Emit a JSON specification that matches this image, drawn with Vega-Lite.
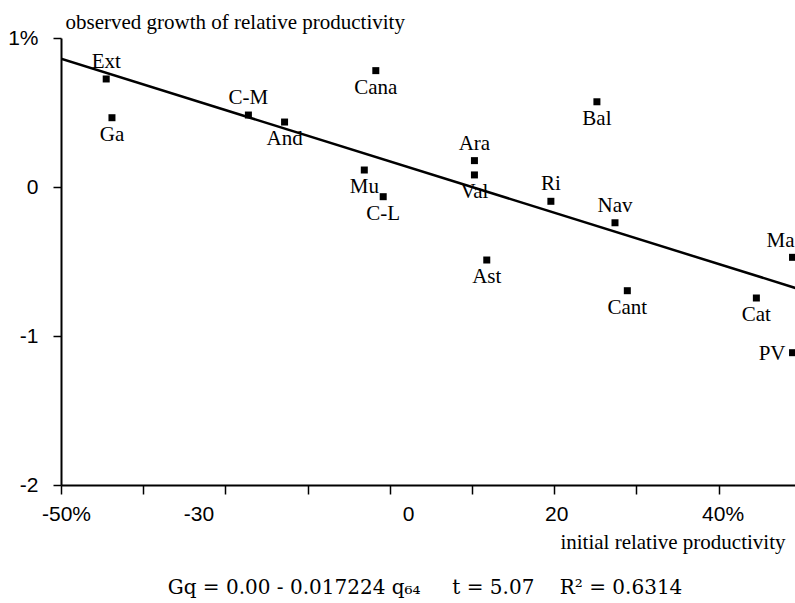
{
  "$schema": "https://vega.github.io/schema/vega-lite/v6.json",
  "width": 734,
  "height": 447,
  "autosize": {"type": "none"},
  "padding": {"left": 61, "top": 38, "right": 0, "bottom": 118},
  "background": "white",
  "title": {
    "text": "Gq = 0.00 - 0.017224 q₆₄\u00a0\u00a0\u00a0\u00a0\u00a0t = 5.07\u00a0\u00a0\u00a0\u00a0R² = 0.6314",
    "orient": "bottom",
    "anchor": "middle",
    "frame": "group",
    "font": "DejaVu Serif",
    "fontSize": 20,
    "fontWeight": "normal",
    "color": "black",
    "baseline": "alphabetic",
    "offset": 42,
    "dx": -3
  },
  "datasets": {
    "regions": [
      {"name": "Ext", "q": -44.5, "g": 0.725},
      {"name": "Ga", "q": -43.8, "g": 0.465},
      {"name": "C-M", "q": -27.2, "g": 0.483},
      {"name": "And", "q": -22.8, "g": 0.436},
      {"name": "Cana", "q": -11.7, "g": 0.781},
      {"name": "Mu", "q": -13.1, "g": 0.114},
      {"name": "C-L", "q": -10.8, "g": -0.065},
      {"name": "Ara", "q": 0.3, "g": 0.177},
      {"name": "Val", "q": 0.3, "g": 0.081},
      {"name": "Ast", "q": 1.8, "g": -0.49},
      {"name": "Bal", "q": 15.2, "g": 0.572},
      {"name": "Ri", "q": 9.6, "g": -0.096},
      {"name": "Nav", "q": 17.4, "g": -0.24},
      {"name": "Cant", "q": 18.9, "g": -0.696},
      {"name": "Cat", "q": 34.6, "g": -0.745},
      {"name": "Ma", "q": 39.0, "g": -0.472},
      {"name": "PV", "q": 39.0, "g": -1.112}
    ],
    "fit": [
      {"q": -50, "g": 0.8612},
      {"q": 50, "g": -0.8612}
    ]
  },
  "config": {
    "view": {"stroke": null},
    "axis": {"grid": false, "domainColor": "black", "tickColor": "black", "labelColor": "black", "titleColor": "black"}
  },
  "layer": [
    {
      "data": {"name": "regions"},
      "mark": {"type": "square", "size": 49, "color": "black", "opacity": 1},
      "encoding": {
        "x": {
          "field": "q", "type": "quantitative",
          "scale": {"domain": [-50, 39.3], "nice": false, "zero": false},
          "axis": {
            "values": [-50, -40, -30, -20, -10, 0, 10, 20, 30],
            "labelExpr": "datum.value == -50 ? '-50%' : datum.value == -30 ? '-30' : datum.value == 0 ? '0' : datum.value == 10 ? '20' : datum.value == 30 ? '40%' : ''",
            "labelOffset": {"expr": "datum.value == -50 ? 5 : datum.value == -30 ? -27 : datum.value == 0 ? -64 : datum.value == 10 ? 2 : datum.value == 30 ? 4 : 0"},
            "labelFlush": false,
            "labelOverlap": false,
            "labelFont": "Liberation Sans",
            "labelFontSize": 21,
            "labelPadding": 9,
            "tickSize": 9,
            "tickWidth": 1.5,
            "domainWidth": 2,
            "title": "initial relative productivity",
            "titleFont": "Liberation Serif",
            "titleFontSize": 21,
            "titleFontWeight": "normal",
            "titleAlign": "right",
            "titleBaseline": "alphabetic",
            "titleX": 724,
            "titleY": 63
          }
        },
        "y": {
          "field": "g", "type": "quantitative",
          "scale": {"domain": [-2, 1], "nice": false, "zero": false},
          "axis": {
            "values": [-2, -1, 0, 1],
            "labelExpr": "datum.value == 1 ? '1%' : '' + datum.value",
            "labelFlush": false,
            "labelOverlap": false,
            "labelFont": "Liberation Sans",
            "labelFontSize": 21,
            "labelPadding": 15,
            "tickSize": 8,
            "tickWidth": 1.5,
            "domainWidth": 2,
            "title": "observed growth of relative productivity",
            "titleFont": "Liberation Serif",
            "titleFontSize": 21,
            "titleFontWeight": "normal",
            "titleAngle": 0,
            "titleAlign": "left",
            "titleBaseline": "alphabetic",
            "titleX": 4,
            "titleY": -10
          }
        }
      }
    },
    {
      "mark": {"type": "rule", "color": "black", "strokeWidth": 2},
      "encoding": {"y": {"datum": 1}}
    },
    {
      "mark": {"type": "rule", "color": "black", "strokeWidth": 1},
      "encoding": {"y": {"datum": 0}}
    },
    {
      "mark": {"type": "rule", "color": "black", "strokeWidth": 1},
      "encoding": {"x": {"datum": 0}}
    },
    {
      "data": {"name": "fit"},
      "mark": {"type": "line", "color": "black", "strokeWidth": 2.5, "clip": true},
      "encoding": {
        "x": {"field": "q", "type": "quantitative"},
        "y": {"field": "g", "type": "quantitative"}
      }
    },
    {
      "data": {"name": "regions"},
      "transform": [{"filter": {"field": "name", "oneOf": ["Ext", "C-M", "Ara", "Ri", "Nav"]}}],
      "mark": {"type": "text", "font": "Liberation Serif", "fontSize": 21, "baseline": "middle", "dy": -17, "color": "black"},
      "encoding": {
        "x": {"field": "q", "type": "quantitative"},
        "y": {"field": "g", "type": "quantitative"},
        "text": {"field": "name"}
      }
    },
    {
      "data": {"name": "regions"},
      "transform": [{"filter": {"field": "name", "oneOf": ["Ma"]}}],
      "mark": {"type": "text", "font": "Liberation Serif", "fontSize": 21, "baseline": "middle", "align": "right", "dx": 2, "dy": -16, "color": "black"},
      "encoding": {
        "x": {"field": "q", "type": "quantitative"},
        "y": {"field": "g", "type": "quantitative"},
        "text": {"field": "name"}
      }
    },
    {
      "data": {"name": "regions"},
      "transform": [{"filter": {"field": "name", "oneOf": ["Ga", "And", "Cana", "Bal", "Mu", "C-L", "Val", "Ast", "Cant", "Cat"]}}],
      "mark": {"type": "text", "font": "Liberation Serif", "fontSize": 21, "baseline": "middle", "dy": 17, "color": "black"},
      "encoding": {
        "x": {"field": "q", "type": "quantitative"},
        "y": {"field": "g", "type": "quantitative"},
        "text": {"field": "name"}
      }
    },
    {
      "data": {"name": "regions"},
      "transform": [{"filter": {"field": "name", "oneOf": ["PV"]}}],
      "mark": {"type": "text", "font": "Liberation Serif", "fontSize": 21, "baseline": "middle", "align": "right", "dx": -7, "dy": 1, "color": "black"},
      "encoding": {
        "x": {"field": "q", "type": "quantitative"},
        "y": {"field": "g", "type": "quantitative"},
        "text": {"field": "name"}
      }
    }
  ]
}
